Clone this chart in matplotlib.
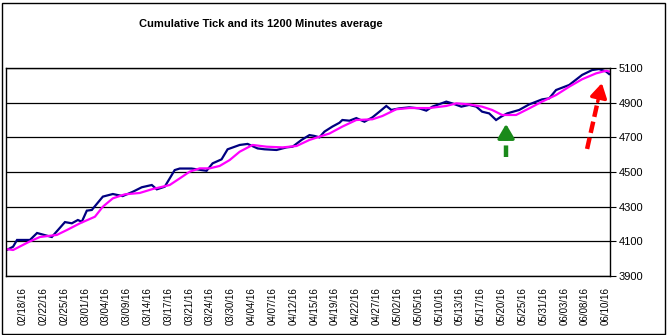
import matplotlib
matplotlib.use("Agg")
import matplotlib.pyplot as plt
from matplotlib.patches import Rectangle

plt.rcParams['font.family'] = ['Liberation Sans', 'DejaVu Sans']

title = "Cumulative Tick and its 1200 Minutes average"

tick_labels = ["02/18/16", "02/22/16", "02/25/16", "03/01/16", "03/04/16", "03/09/16",
               "03/14/16", "03/17/16", "03/21/16", "03/24/16", "03/30/16", "04/04/16",
               "04/07/16", "04/12/16", "04/15/16", "04/19/16", "04/22/16", "04/27/16",
               "05/02/16", "05/05/16", "05/10/16", "05/13/16", "05/17/16", "05/20/16",
               "05/25/16", "05/31/16", "06/03/16", "06/08/16", "06/10/16"]

# Cumulative tick (sample positions along the category axis, values)
tick_x = [0.3, 3.4, 5.3, 11.5, 14.9, 22, 28.3, 31.6, 34.5, 36.4, 38.8, 41.2, 46.5, 51.3,
          56, 60.9, 65.2, 70, 72.4, 76.2, 81, 83.4, 89.1, 96.3, 99.2, 103.5, 106.4,
          112.2, 116, 120.8, 124.1, 129.9, 134.7, 137.6, 141.9, 145.7, 148.1, 150.5,
          152.9, 156.7, 160.1, 161.5, 164.9, 168.2, 172.1, 175.9, 179.3, 182.6, 185,
          188.8, 193.6, 198.4, 201.8, 204.7, 211.4, 214.2, 218.6, 222.4, 225.8, 228.6,
          232, 235.3, 237.7, 240.6, 246.4, 251.2, 257.4, 260.8, 264.1, 270.4, 276.6,
          281.4, 284.7, 288.1, 289.6]
tick_v = [4050, 4069, 4108, 4108, 4148, 4125, 4211, 4204, 4223, 4213, 4277, 4281, 4358,
          4373, 4361, 4386, 4412, 4425, 4400, 4415, 4511, 4520, 4520, 4507, 4550, 4573,
          4631, 4656, 4662, 4636, 4631, 4627, 4642, 4646, 4685, 4713, 4708, 4700, 4733,
          4762, 4784, 4800, 4796, 4811, 4790, 4815, 4848, 4881, 4858, 4867, 4873, 4867,
          4854, 4877, 4906, 4896, 4877, 4887, 4877, 4848, 4838, 4800, 4819, 4838, 4858,
          4890, 4919, 4925, 4973, 5002, 5060, 5088, 5094, 5080, 5065]

# 1200 minutes average
avg_x = [0.3, 3.4, 11.5, 16.3, 24.4, 29.2, 35.5, 42.7, 46.5, 51.3, 57, 64.2, 70.5, 78.6,
         83.4, 88.2, 93, 97.8, 102.6, 107.4, 112.2, 118.4, 125.1, 132.8, 139.5, 145.7,
         152.9, 155.3, 161.5, 168.2, 175.9, 180.7, 187.4, 193.6, 203.2, 211.4, 216.2,
         222.4, 228.6, 233.4, 238.2, 244.9, 251.2, 257.4, 264.1, 270.4, 276.6, 283.3,
         288.1, 289.6]
avg_v = [4055, 4050, 4100, 4125, 4137, 4165, 4204, 4242, 4300, 4348, 4371, 4379, 4402,
         4425, 4463, 4502, 4521, 4521, 4535, 4569, 4617, 4656, 4646, 4642, 4650, 4685,
         4713, 4722, 4762, 4800, 4804, 4823, 4862, 4869, 4869, 4881, 4896, 4890, 4877,
         4858, 4829, 4829, 4867, 4906, 4944, 4992, 5035, 5069, 5084, 5080]

yticks = [3900, 4100, 4300, 4500, 4700, 4900, 5100]

W, H = 668, 335
fig = plt.figure(figsize=(W / 100, H / 100), dpi=100)
fig.patch.set_facecolor('white')
fig.patches.append(Rectangle((1.5 / W, 1.5 / H), (W - 5) / W, (H - 4) / H,
                             transform=fig.transFigure, fill=False,
                             edgecolor='black', linewidth=1.0))

ax = fig.add_axes([6 / W, 1 - 276 / H, 604 / W, 208 / H])
ax.plot(tick_x, tick_v, color='#000080', linewidth=1.6, solid_joinstyle='miter')
ax.plot(avg_x, avg_v, color='#ff00ff', linewidth=1.6)

ax.set_ylim(3900, 5100)
ax.set_xlim(0, 290)
ax.set_yticks(yticks)
ax.yaxis.tick_right()
ax.tick_params(axis='y', length=4, width=0.8, labelsize=8, pad=2, colors='black')
ax.set_xticks([8 + 10 * i for i in range(len(tick_labels))])
ax.set_xticklabels(tick_labels, rotation=90, fontsize=7)
ax.tick_params(axis='x', length=0, pad=8)
ax.grid(axis='y', color='black', linewidth=0.9)
for s in ax.spines.values():
    s.set_linewidth(1.0)
    s.set_color('black')

# arrows
def dashed_arrow(x0, y0, x1, y1, color):
    fx = x0 + (x1 - x0) * 0.72
    fy = y0 + (y1 - y0) * 0.72
    ax.plot([x0, fx], [y0, fy], color=color, linewidth=3.2, dashes=(2.6, 1.1),
            solid_capstyle='butt', dash_capstyle='butt', zorder=5)
    ax.annotate('', xy=(x1, y1), xytext=(fx, fy),
                arrowprops=dict(arrowstyle='-|>,head_length=0.85,head_width=0.5',
                                color=color, linewidth=2.5, shrinkA=0, shrinkB=0),
                zorder=5)

dashed_arrow(240.1, 4586, 240.1, 4777, '#1a8a1a')
dashed_arrow(279, 4633, 286.1, 5013, '#ff0000')

fig.text(261 / W, 1 - 24 / H, title, ha='center', va='center', fontsize=8,
         fontweight='bold')

fig.savefig('out.png', dpi=100, facecolor='white')
